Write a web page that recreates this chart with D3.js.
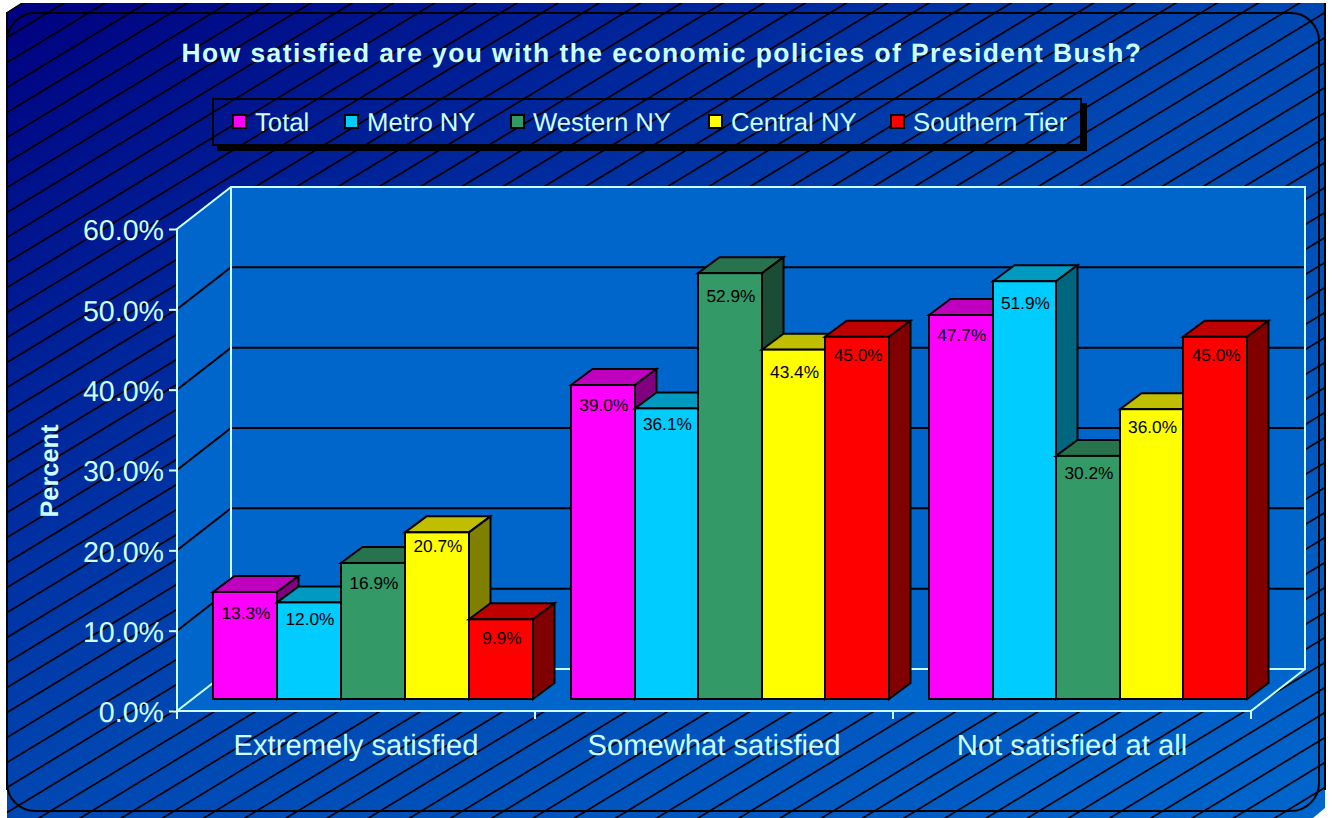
<!DOCTYPE html>
<html><head><meta charset="utf-8">
<script src="https://cdn.jsdelivr.net/npm/d3@7"></script>
<style>html,body{margin:0;padding:0;background:#fff}svg{display:block}text{font-family:"Liberation Sans",Arial,sans-serif;text-rendering:geometricPrecision}</style>
</head><body><svg id="c" width="1332" height="818"></svg>
<script>
const title = "How satisfied are you with the economic policies of President Bush?";
const categories = ["Extremely satisfied","Somewhat satisfied","Not satisfied at all"];
const seriesNames = ["Total","Metro NY","Western NY","Central NY","Southern Tier"];
const total = [13.3,39.0,47.7];
const metroNY = [12.0,36.1,51.9];
const westernNY = [16.9,52.9,30.2];
const centralNY = [20.7,43.4,36.0];
const southernTier = [9.9,45.0,45.0];
const yTicks = [0,10,20,30,40,50,60];
const faceColors = ["#ff00ff","#00ccff","#339966","#ffff00","#ff0000"];
const topColors = ["#bf00bf","#0099bf","#26734d","#bfbf00","#bf0000"];
const sideColors = ["#800080","#006680","#1a4d33","#808000","#800000"];
const series = [total,metroNY,westernNY,centralNY,southernTier];
// distance of each value label's centre below its bar top, by series then category
const labelDrop = [[21,20,20],[16,15,22],[20,23,17],[13,22,18],[18,18,18]];
const ink = "#ccffff";

const svg = d3.select("#c");
const defs = svg.append("defs");
const grad = defs.append("linearGradient").attr("id","bg").attr("x1",0).attr("y1",0).attr("x2",1).attr("y2",1);
grad.append("stop").attr("offset",0).attr("stop-color","#000080");
grad.append("stop").attr("offset",0.5).attr("stop-color","#0047b2");
grad.append("stop").attr("offset",1).attr("stop-color","#0066cc");
const bgShape = "M7,12L21,3H1325V808L1313,818H7Z";
defs.append("clipPath").attr("id","bgclip").append("path").attr("d",bgShape);

// background with hatching
svg.append("path").attr("d",bgShape).attr("fill","url(#bg)");
const hatch = svg.append("g").attr("clip-path","url(#bgclip)").attr("stroke","#000").attr("stroke-width",1.7);
const spacing = 25, slope = 800/1318;
for (let c = 12.5; c < 1650; c += spacing) {
  hatch.append("line").attr("x1",7).attr("y1",c).attr("x2",1325).attr("y2",c-1318*slope);
}
svg.append("path").attr("d","M7,790V12M1325,3V790").attr("fill","none").attr("stroke","#000").attr("stroke-width",2);
svg.append("rect").attr("x",7).attr("y",13).attr("width",1312).attr("height",798).attr("rx",28).attr("fill","none").attr("stroke","#000").attr("stroke-width",2);

// geometry
const dx = 54, dy = -42;
const x0 = 177, x1 = 1251, yBase = 711;
const y = d3.scaleLinear().domain([0,60]).range([yBase,229]);
const yBar = d3.scaleLinear().domain([0,60]).range([699,216]);
const xCat = d3.scaleBand().domain(categories).range([x0,x1]);
const barInset = 36, barSpans = [320,318,318];
const xBars = barSpans.map(s=>d3.scaleBand().domain(d3.range(5)).range([0,s]));
const sideX = 21.5, sideY = -16;

// walls and floor
const wall = svg.append("g");
wall.append("path").attr("d",`M${x0},${y(60)}L${x0+dx},${y(60)+dy}V${yBase+dy}L${x0},${yBase}Z`).attr("fill","#0066cc");
wall.append("rect").attr("x",x0+dx).attr("y",y(60)+dy).attr("width",x1-x0).attr("height",yBase-y(60)).attr("fill","#0066cc");
wall.append("path").attr("d",`M${x0},${yBase}L${x0+dx},${yBase+dy}H${x1+dx}L${x1},${yBase}Z`).attr("fill","#0066cc");
yTicks.slice(1,-1).forEach(t=>{
  wall.append("path").attr("d",`M${x0},${y(t)}L${x0+dx},${y(t)+dy}H${x1+dx}`).attr("fill","none").attr("stroke","#000").attr("stroke-width",2);
});
wall.append("path").attr("d",`M${x0},${yBase}V${y(60)}L${x0+dx},${y(60)+dy}H${x1+dx}V${yBase+dy}H${x0+dx}V${y(60)+dy}M${x0+dx},${yBase+dy}L${x0},${yBase}H${x1}L${x1+dx},${yBase+dy}`)
  .attr("fill","none").attr("stroke",ink).attr("stroke-width",2);

// axes
const yAxis = d3.axisLeft(y).tickValues(yTicks).tickSize(8).tickPadding(5).tickFormat(d=>d.toFixed(1)+"%");
const gy = svg.append("g").attr("transform",`translate(${x0},0)`).call(yAxis);
gy.select(".domain").remove();
gy.selectAll("line").attr("stroke",ink).attr("stroke-width",2);
gy.selectAll("text").attr("fill",ink).attr("font-size",28.6).attr("dy","0.38em");
const xAxis = d3.axisBottom(xCat).tickSize(0).tickPadding(23);
const gx = svg.append("g").attr("transform",`translate(0,${yBase})`).call(xAxis);
gx.select(".domain").remove();
gx.selectAll("text").attr("fill",ink).attr("font-size",29.2).attr("dy","0.71em");
[0,1,2,3].forEach(i=>svg.append("line").attr("x1",x0+i*xCat.step()).attr("x2",x0+i*xCat.step()).attr("y1",yBase).attr("y2",yBase+8).attr("stroke",ink).attr("stroke-width",2));

// bars
const bars = svg.append("g").attr("stroke","#000").attr("stroke-width",2).attr("stroke-linejoin","miter");
categories.forEach((cat,ci)=>{
  const xBar = xBars[ci];
  series.forEach((vals,si)=>{
    const v = vals[ci];
    const L = Math.round(xCat(cat)+barInset+xBar(si)), R = Math.round(xCat(cat)+barInset+xBar(si)+xBar.bandwidth());
    const B = yBar(0), T = yBar(v);
    bars.append("path").attr("d",`M${L},${T}L${L+sideX},${T+sideY}H${R+sideX}L${R},${T}Z`).attr("fill",topColors[si]);
    bars.append("path").attr("d",`M${R},${T}L${R+sideX},${T+sideY}V${B+sideY}L${R},${B}Z`).attr("fill",sideColors[si]);
    bars.append("rect").attr("x",L).attr("y",T).attr("width",R-L).attr("height",B-T).attr("fill",faceColors[si]);
  });
});
const labels = svg.append("g").attr("font-size",17.3).attr("fill","#000").attr("text-anchor","middle");
categories.forEach((cat,ci)=>{
  const xBar = xBars[ci];
  series.forEach((vals,si)=>{
    const v = vals[ci];
    labels.append("text").attr("x",xCat(cat)+barInset+xBar(si)+xBar.bandwidth()/2+1).attr("y",yBar(v)+labelDrop[si][ci]).attr("dy","0.36em").text(v.toFixed(1)+"%");
  });
});

// title and y label
svg.append("text").attr("x",662).attr("y",62).attr("text-anchor","middle").attr("font-size",26.4).attr("font-weight","bold").attr("letter-spacing",1.45).attr("fill",ink).text(title);
svg.append("text").attr("transform","translate(58,471) rotate(-90)").attr("text-anchor","middle").attr("font-size",25.4).attr("font-weight","bold").attr("fill",ink).text("Percent");

// legend
const legX = [233,345,511,709,891];
svg.append("rect").attr("x",217).attr("y",145).attr("width",870).attr("height",6).attr("fill","#000");
svg.append("rect").attr("x",1081).attr("y",103).attr("width",6).attr("height",48).attr("fill","#000");
svg.append("rect").attr("x",213).attr("y",99).attr("width",868).attr("height",46).attr("fill","none").attr("stroke","#000").attr("stroke-width",2);
seriesNames.forEach((n,i)=>{
  svg.append("rect").attr("x",legX[i]).attr("y",115).attr("width",13).attr("height",13).attr("fill",faceColors[i]).attr("stroke","#000").attr("stroke-width",2);
  svg.append("text").attr("x",legX[i]+22).attr("y",131).attr("font-size",25.7).attr("fill",ink).text(n);
});
</script></body></html>
